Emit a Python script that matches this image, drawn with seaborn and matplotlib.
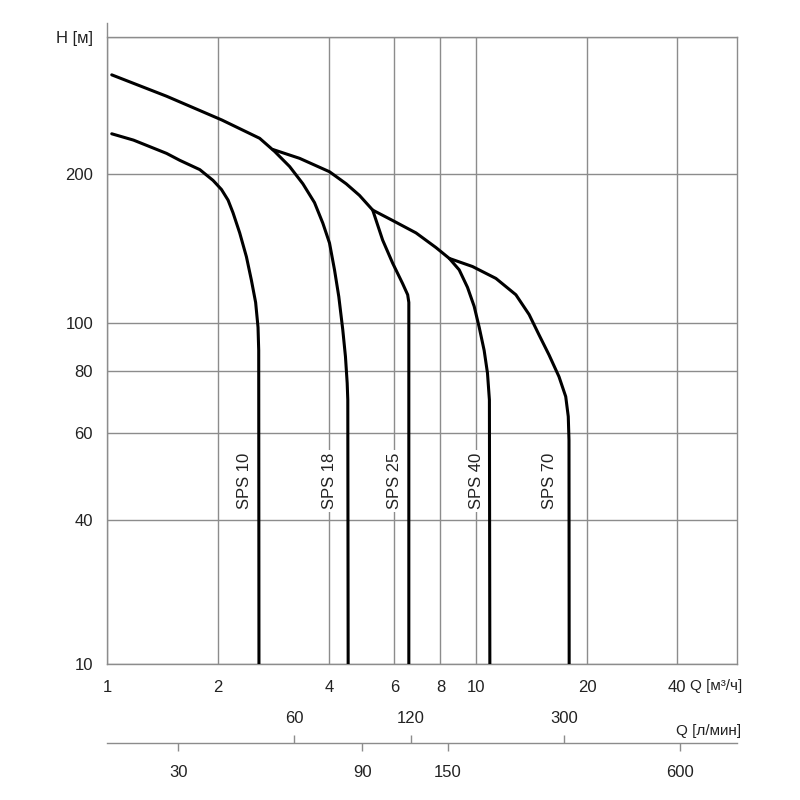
import numpy as np
import pandas as pd
import matplotlib
matplotlib.use("Agg")
import matplotlib.pyplot as plt
import seaborn as sns
from matplotlib.ticker import FixedLocator, FixedFormatter, NullFormatter

# ---------------- data ----------------
models = ["SPS 10", "SPS 18", "SPS 25", "SPS 40", "SPS 70"]

sps10_q = [1.03, 1.18, 1.45, 1.575, 1.784, 1.938, 2.042, 2.128, 2.194, 2.288,
           2.386, 2.461, 2.527, 2.565, 2.576, 2.58]
sps10_h = [241, 234, 220, 213, 204, 194, 186, 177, 167, 152,
           136, 122, 110, 98, 88, 10]

sps18_q = [1.03, 1.45, 2.046, 2.591, 2.845, 3.123, 3.393, 3.648, 3.843, 4.006,
           4.133, 4.245, 4.352, 4.425, 4.473, 4.49, 4.50]
sps18_h = [317, 287, 257, 236, 222, 207, 191, 175, 159, 145,
           128, 113, 96.8, 85.5, 75.6, 69.9, 10]

sps25_q = [2.815, 3.324, 4.006, 4.445, 4.828, 5.245, 5.58, 5.941, 6.323, 6.523,
           6.57, 6.57]
sps25_h = [224, 215, 202, 191, 181, 169, 147, 132, 120, 114,
           110, 10]

sps40_q = [5.245, 5.941, 6.871, 7.78, 8.455, 8.995, 9.473, 9.876, 10.19, 10.51,
           10.73, 10.86, 10.89]
sps40_h = [169, 161, 152, 142, 135, 128, 118, 108, 98, 88,
           79.2, 69.9, 10]

sps70_q = [8.455, 9.772, 11.31, 12.81, 13.91, 14.80, 15.75, 16.76, 17.48, 17.76,
           17.84, 17.86]
sps70_h = [135, 130, 123, 114, 104, 94.6, 86.2, 77.9, 71.0, 64.7,
           58.0, 10]

x_ticks = [1, 2, 4, 6, 8, 10, 20, 40]
x_ticklabels = ["1", "2", "4", "6", "8", "10", "20", "40"]
y_ticks = [10, 40, 60, 80, 100, 200, 378]
y_ticklabels = ["10", "40", "60", "80", "100", "200", "H [м]"]

lmin_upper = [60, 120, 300]
lmin_upper_labels = ["60", "120", "300"]
lmin_lower = [30, 90, 150, 600]
lmin_lower_labels = ["30", "90", "150", "600"]

# ---------------- style ----------------
sns.set_style("white")
plt.rcParams["font.family"] = ["Liberation Sans", "DejaVu Sans"]
GRAY = "#8c8c8c"
FS = 12

qs = [sps10_q, sps18_q, sps25_q, sps40_q, sps70_q]
hs = [sps10_h, sps18_h, sps25_h, sps40_h, sps70_h]
rows = []
for name, q, h in zip(models, qs, hs):
    for i, (qq, hh) in enumerate(zip(q, h)):
        rows.append({"model": name, "Q": qq, "H": hh, "order": i})
df = pd.DataFrame(rows)

# piecewise logarithmic scales as printed in the original diagram
L20 = np.log10(20.0)
KX = 299.0 / 370.0
L40 = np.log10(40.0)
CY = 144.0 / (495.0 * np.log10(4.0))


def fx(x):
    x = np.asarray(x, dtype=float)
    with np.errstate(divide="ignore", invalid="ignore"):
        lx = np.log10(np.clip(x, 1e-12, None))
    return np.where(lx <= L20, lx, L20 + (lx - L20) * KX)


def fx_inv(p):
    p = np.asarray(p, dtype=float)
    return np.where(p <= L20, 10.0 ** p, 10.0 ** (L20 + (p - L20) / KX))


def fy(y):
    y = np.asarray(y, dtype=float)
    with np.errstate(divide="ignore", invalid="ignore"):
        ly = np.log10(np.clip(y, 1e-12, None))
    return np.where(ly >= L40, ly, L40 - (L40 - ly) * CY)


def fy_inv(p):
    p = np.asarray(p, dtype=float)
    return np.where(p >= L40, 10.0 ** p, 10.0 ** (L40 - (L40 - p) / CY))


fig = plt.figure(figsize=(8, 8), dpi=100)
ax = fig.add_axes([107 / 800, 1 - 664 / 800, 630 / 800, 627 / 800])

sns.lineplot(data=df, x="Q", y="H", hue="model", estimator=None, sort=False,
             palette=["black"] * len(models), legend=False, linewidth=2.2,
             ax=ax, zorder=5)
for ln in ax.get_lines():
    ln.set_solid_joinstyle("round")
    ln.set_solid_capstyle("round")

ax.set_xscale("function", functions=(fx, fx_inv))
ax.set_yscale("function", functions=(fy, fy_inv))
ax.set_xlim(1, 63.5)
ax.set_ylim(10, 378)

ax.xaxis.set_major_locator(FixedLocator(x_ticks))
ax.xaxis.set_major_formatter(FixedFormatter(x_ticklabels))
ax.xaxis.set_minor_locator(FixedLocator([1, 63.5]))
ax.xaxis.set_minor_formatter(NullFormatter())
ax.xaxis.remove_overlapping_locs = False
ax.yaxis.set_major_locator(FixedLocator(y_ticks))
ax.yaxis.set_major_formatter(FixedFormatter(y_ticklabels))
ax.yaxis.set_minor_locator(FixedLocator([]))

ax.tick_params(axis="x", which="major", length=0, pad=11.5, labelsize=FS, colors="#222222")
ax.tick_params(axis="x", which="minor", length=6, width=1.0, color=GRAY, direction="out")
ax.tick_params(axis="y", which="major", length=6, width=1.0, color=GRAY, pad=4,
               labelsize=FS, labelcolor="#222222", direction="out")

ax.grid(True, which="major", color=GRAY, linewidth=1.0)
ax.set_axisbelow(True)
for s in ax.spines.values():
    s.set_color(GRAY)
    s.set_linewidth(1.0)
ax.spines["left"].set_bounds(10, 403)
ax.set_xlabel("")
ax.set_ylabel("")

# curve labels
label_x = [2.36, 4.0, 6.0, 10.0, 15.75]
for name, lx in zip(models, label_x):
    ax.text(lx, 48, name, rotation=90, ha="center", va="center", fontsize=FS,
            color="#222222", zorder=4,
            bbox=dict(facecolor="white", edgecolor="none", pad=2))

fig.text(690 / 800, 1 - 686 / 800, "Q [м³/ч]", ha="left", va="center",
         fontsize=11, color="#222222")

# secondary flow axis in l/min
ax2 = fig.add_axes([107 / 800, 1 - 743 / 800, 630 / 800, 0.0001])
ax2.set_xscale("log")
ax2.set_xlim(19.6, 842)
ax2.set_yticks([])
ax2.patch.set_visible(False)
for k in ["left", "right", "top"]:
    ax2.spines[k].set_visible(False)
ax2.spines["bottom"].set_color(GRAY)
ax2.spines["bottom"].set_linewidth(1.0)
ax2.xaxis.set_major_locator(FixedLocator(lmin_lower))
ax2.xaxis.set_major_formatter(FixedFormatter(lmin_lower_labels))
ax2.xaxis.set_minor_locator(FixedLocator(lmin_upper))
ax2.xaxis.set_minor_formatter(FixedFormatter(lmin_upper_labels))
ax2.tick_params(axis="x", which="major", bottom=True, top=False, labelbottom=True,
                labeltop=False, direction="out", length=6, width=1.0, color=GRAY,
                pad=10, labelsize=FS, labelcolor="#222222")
ax2.tick_params(axis="x", which="minor", bottom=False, top=True, labelbottom=False,
                labeltop=True, direction="out", length=6, width=1.0, color=GRAY,
                pad=6, labelsize=FS, labelcolor="#222222")
fig.text(741 / 800, 1 - 731 / 800, "Q [л/мин]", ha="right", va="center",
         fontsize=11, color="#222222")

fig.savefig("out.png", dpi=100, facecolor="white")
